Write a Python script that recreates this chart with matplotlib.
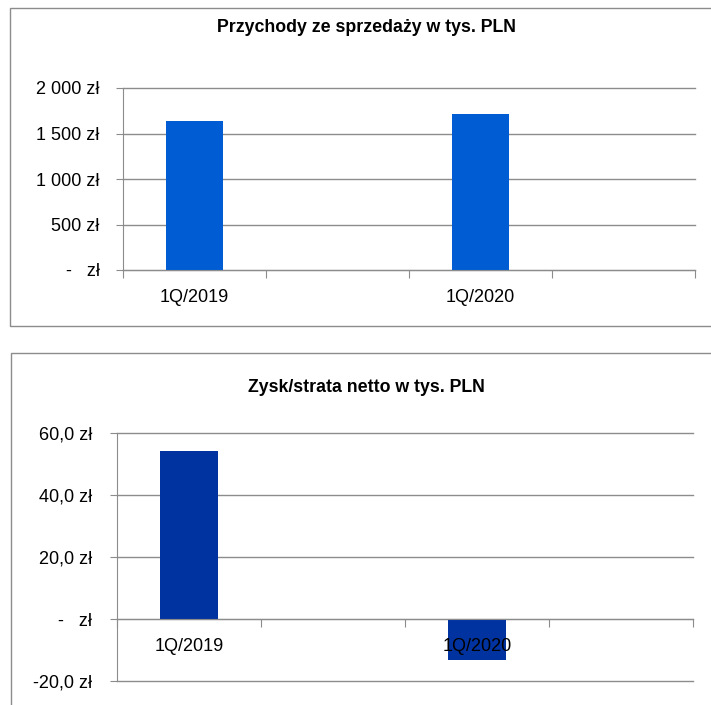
import matplotlib
matplotlib.use("Agg")
import matplotlib.pyplot as plt
from matplotlib.patches import Rectangle

plt.rcParams['font.family'] = ['Liberation Sans', 'DejaVu Sans']

categories = ["1Q/2019", "", "1Q/2020", ""]
revenue = [1633, None, 1718, None]
net_profit = [54.2, None, -13.2, None]

rev_ticks = [0, 500, 1000, 1500, 2000]
rev_tick_labels = ["-   zł", "500 zł", "1 000 zł", "1 500 zł", "2 000 zł"]
np_ticks = [-20, 0, 20, 40, 60]
np_tick_labels = ["-20,0 zł", "-   zł", "20,0 zł", "40,0 zł", "60,0 zł"]

title_rev = "Przychody ze sprzedaży w tys. PLN"
title_np = "Zysk/strata netto w tys. PLN"

W, H = 711, 705
fig = plt.figure(figsize=(W / 100, H / 100), dpi=100)

GRID = "#8c8c8c"
FRAME = "#8c8c8c"

def px(l, t, r, b):
    return [l / W, 1 - b / H, (r - l) / W, (b - t) / H]

# outer frames
fig.patches.append(Rectangle((10 / W, 1 - 326 / H), 720 / W, 318 / H, transform=fig.transFigure,
                             fill=False, edgecolor=FRAME, linewidth=1.0))
fig.patches.append(Rectangle((11 / W, -0.05), 720 / W, (H - 353) / H + 0.05, transform=fig.transFigure,
                             fill=False, edgecolor=FRAME, linewidth=1.0))

def setup(ax, vals, color, ticks, tlabels, ylim, title, title_y, ypad):
    n = len(categories)
    xs = [i for i, v in enumerate(vals) if v is not None]
    hs = [v for v in vals if v is not None]
    for t in ticks:
        ax.axhline(t, color=GRID, linewidth=1.0, zorder=0, clip_on=False)
    ax.bar(xs, hs, width=0.4, color=color, zorder=1)
    ax.set_xlim(-0.5, n - 0.5)
    ax.set_ylim(*ylim)
    ax.set_yticks(ticks)
    ax.set_yticklabels(tlabels)
    ax.set_xticks([i - 0.5 for i in range(n + 1)])
    ax.set_xticklabels([])
    ax.set_xticks(range(n), minor=True)
    ax.set_xticklabels(categories, minor=True)
    ax.tick_params(axis='x', which='major', length=6, color=GRID, direction='out')
    ax.tick_params(axis='x', which='minor', length=0, pad=14, labelsize=13)
    ax.tick_params(axis='y', length=5, color=GRID, pad=ypad, labelsize=13)
    for s in ['top', 'right']:
        ax.spines[s].set_visible(False)
    ax.spines['left'].set_color(GRID)
    ax.spines['bottom'].set_color(GRID)
    ax.spines['bottom'].set_position(('data', 0))
    fig.text(366 / W, 1 - title_y / H, title,
             ha='center', va='center', fontsize=12.8, fontweight='bold')

ax1 = fig.add_axes(px(123, 88, 695, 270))
setup(ax1, revenue, "#005cd3", rev_ticks, rev_tick_labels, (0, 2000), title_rev, 27, 12)

ax2 = fig.add_axes(px(117, 433, 693, 681))
setup(ax2, net_profit, "#0033a0", np_ticks, np_tick_labels, (-20, 60), title_np, 388, 13)

fig.savefig("out.png", dpi=100)
